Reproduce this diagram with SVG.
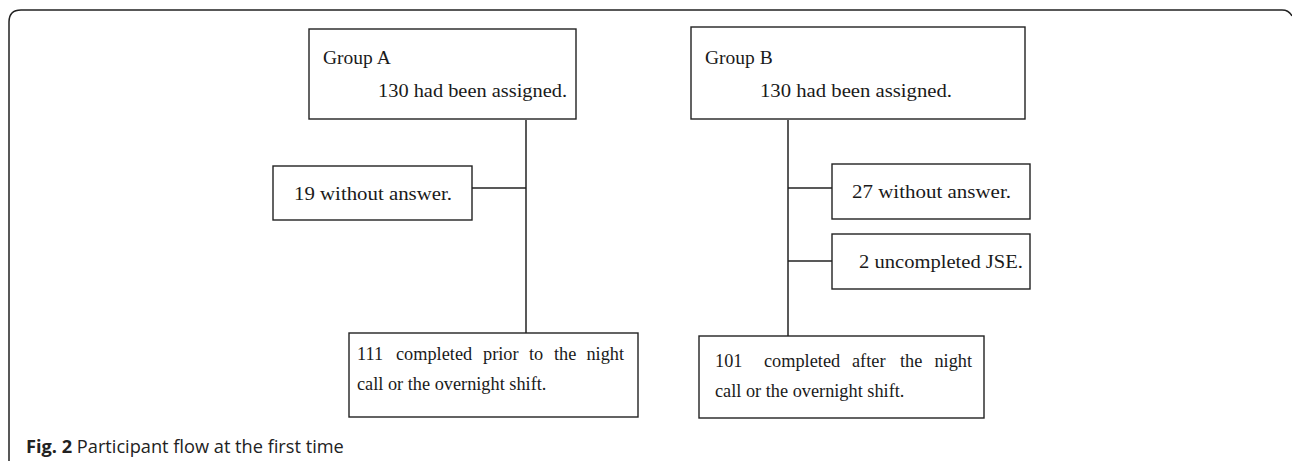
<svg xmlns="http://www.w3.org/2000/svg" width="1292" height="461" viewBox="0 0 1292 461">
<style>
.box{fill:#fff;stroke:#222;stroke-width:1.4}
.t{font-family:"Liberation Serif","Times New Roman",serif;fill:#1a1a1a}
.top{font-size:19.5px}
.bot{font-size:18.3px}
.conn line{stroke:#222;stroke-width:1.5}
.cap{font-family:"Open Sans","Liberation Sans",sans-serif;font-size:18.2px;fill:#222}
</style>
<rect width="1292" height="461" fill="#fff"/>
<path d="M9,461 V22 Q9,10 21,10 H1282 Q1289,10 1292,16" fill="none" stroke="#222" stroke-width="1.5"/>
<g class="conn" id="connectors">
<line x1="526" y1="120" x2="526" y2="333"/>
<line x1="472" y1="188" x2="526" y2="188"/>
<line x1="788" y1="120" x2="788" y2="336"/>
<line x1="788" y1="188" x2="832" y2="188"/>
<line x1="788" y1="261" x2="832" y2="261"/>
</g>
<g id="groupA">
<rect class="box" x="309" y="29" width="267" height="90"/>
<text class="t top" x="323" y="64">Group A</text>
<text class="t top" x="378" y="97" textLength="189" lengthAdjust="spacingAndGlyphs">130 had been assigned.</text>
</g>
<g id="groupB">
<rect class="box" x="691" y="27" width="334" height="92"/>
<text class="t top" x="705" y="64">Group B</text>
<text class="t top" x="760" y="97" textLength="192" lengthAdjust="spacingAndGlyphs">130 had been assigned.</text>
</g>
<g id="noAnswerA">
<rect class="box" x="273" y="166" width="199" height="54"/>
<text class="t top" x="294" y="200" textLength="158" lengthAdjust="spacingAndGlyphs">19 without answer.</text>
</g>
<g id="noAnswerB">
<rect class="box" x="832" y="164" width="198" height="55"/>
<text class="t top" x="852" y="198" textLength="159" lengthAdjust="spacingAndGlyphs">27 without answer.</text>
</g>
<g id="uncompletedB">
<rect class="box" x="832" y="234" width="198" height="55"/>
<text class="t top" x="859" y="268" textLength="164" lengthAdjust="spacingAndGlyphs">2 uncompleted JSE.</text>
</g>
<g id="completedA">
<rect class="box" x="349" y="333" width="289" height="84"/>
<text class="t bot" y="360"><tspan x="357">111</tspan><tspan x="396">completed</tspan><tspan x="483">prior</tspan><tspan x="529">to</tspan><tspan x="554">the</tspan><tspan x="624" text-anchor="end">night</tspan></text>
<text class="t bot" x="357" y="390">call or the overnight shift.</text>
</g>
<g id="completedB">
<rect class="box" x="699" y="336" width="285" height="82"/>
<text class="t bot" y="367"><tspan x="715">101</tspan><tspan x="764">completed</tspan><tspan x="852">after</tspan><tspan x="900">the</tspan><tspan x="972" text-anchor="end">night</tspan></text>
<text class="t bot" x="715" y="397">call or the overnight shift.</text>
</g>
<text class="cap" x="26" y="453"><tspan font-weight="bold">Fig. 2</tspan> Participant flow at the first time</text>
</svg>
